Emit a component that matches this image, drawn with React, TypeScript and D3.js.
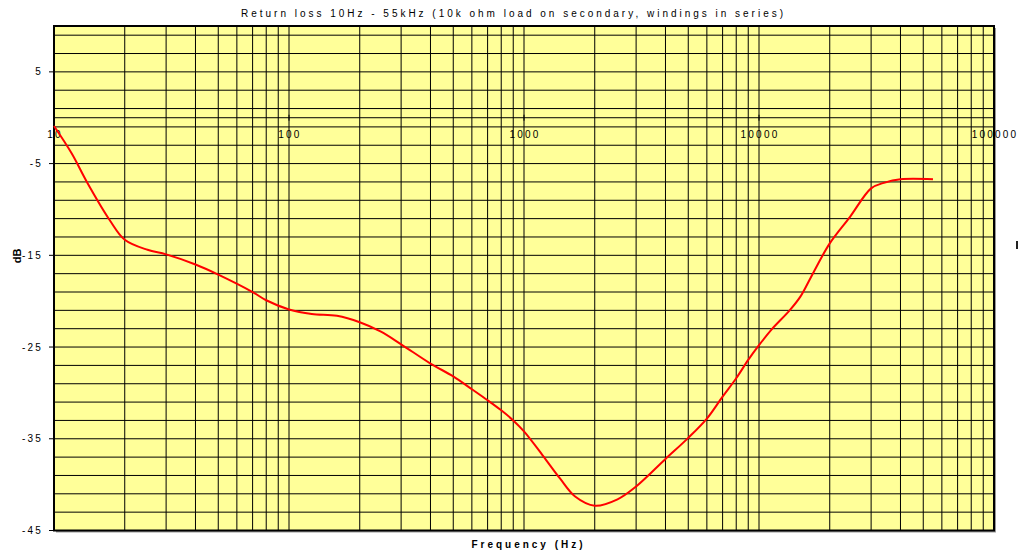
import React from "react";
import * as d3 from "d3";

const freqHz = [10, 11.9, 13.8, 17.3, 20, 25, 30, 40, 50, 70, 80, 100, 125, 160, 200, 245, 300, 400, 500, 600, 700, 800, 900, 1000, 1200, 1420, 1650, 2000, 2500, 3000, 4000, 5000, 6000, 7000, 8000, 9000, 10000, 11300, 13500, 15000, 16700, 20000, 24400, 30000, 34000, 40000, 55000];
const returnLossDb = [-0.9, -3.9, -7.0, -11.2, -13.3, -14.4, -14.9, -16.0, -17.1, -19.0, -19.9, -20.9, -21.4, -21.6, -22.3, -23.3, -24.7, -26.8, -28.2, -29.6, -30.8, -31.9, -33.0, -34.2, -36.8, -39.3, -41.3, -42.3, -41.6, -40.2, -37.2, -34.9, -32.8, -30.4, -28.4, -26.4, -24.8, -23.1, -21.0, -19.5, -17.3, -13.7, -10.8, -7.7, -7.1, -6.7, -6.7];
const yTickLabels = [-45, -35, -25, -15, -5, 5];
const xTickLabels = [10, 100, 1000, 10000, 100000];
const titleText = "Return loss 10Hz - 55kHz (10k ohm load on secondary, windings in series)";
const xAxisTitle = "Frequency (Hz)";
const yAxisTitle = "dB";

const W = 1020, H = 553;
const L = 54, R = 994, T = 26, B = 530.5;

export default function App() {
  const x = d3.scaleLog().domain([10, 100000]).range([L, R]);
  const y = d3.scaleLinear().domain([-45, 10]).range([B, T]);

  const vLines: number[] = [];
  [10, 100, 1000, 10000].forEach((d) => {
    for (let k = 1; k <= 9; k++) vLines.push(d * k);
  });
  const hLines: number[] = [];
  for (let v = -43; v <= 9; v += 2) hLines.push(v);

  const pts: [number, number][] = freqHz.map((f, i) => [x(f), y(returnLossDb[i])]);
  const line = d3.line().curve(d3.curveCatmullRom.alpha(0.5))(pts) || "";

  const font = "'Liberation Sans', Arial, sans-serif";

  return (
    <svg width={W} height={H} style={{ position: "absolute", left: 0, top: 0, background: "#fff" }} fontFamily={font}>
      <rect x={L + 2} y={T + 2} width={R - L} height={B - T} fill="#999" />
      <rect x={L} y={T} width={R - L} height={B - T} fill="#FFFF99" />
      {vLines.map((f, i) => (
        <line key={"v" + i} x1={x(f)} x2={x(f)} y1={T} y2={B} stroke="#000" strokeWidth={1} />
      ))}
      {hLines.map((v, i) => (
        <line key={"h" + i} x1={L} x2={R} y1={y(v)} y2={y(v)} stroke="#000" strokeWidth={1} />
      ))}
      <line x1={L} x2={R} y1={y(0)} y2={y(0)} stroke="#000" strokeWidth={1} />
      {xTickLabels.map((f, i) => (
        <line key={"xt" + i} x1={x(f)} x2={x(f)} y1={y(0) - 3} y2={y(0) + 3} stroke="#000" strokeWidth={1} />
      ))}
      <rect x={L} y={T} width={R - L} height={B - T} fill="none" stroke="#000" strokeWidth={2} />
      {yTickLabels.map((v, i) => (
        <g key={"yt" + i}>
          <line x1={L - 5} x2={L} y1={y(v)} y2={y(v)} stroke="#000" strokeWidth={1} />
          <text x={43} y={y(v) + 3.5} textAnchor="end" fontSize={10} letterSpacing={2.2} fill="#000">
            {v}
          </text>
        </g>
      ))}
      {xTickLabels.map((f, i) => (
        <text key={"xl" + i} x={x(f) + 1} y={y(0) + 20} textAnchor="middle" fontSize={10} letterSpacing={2.2} fill="#000">
          {f}
        </text>
      ))}
      <path d={line} fill="none" stroke="#FF0000" strokeWidth={2} />
      <text x={512} y={16.5} textAnchor="middle" fontSize={10} textLength={542} lengthAdjust="spacing" fill="#000">
        {titleText}
      </text>
      <text x={527} y={548} textAnchor="middle" fontSize={10} fontWeight="bold" textLength={111} lengthAdjust="spacing" fill="#000">
        {xAxisTitle}
      </text>
      <text transform={`translate(21,256) rotate(-90)`} textAnchor="middle" fontSize={11} fontWeight="bold" fill="#000">
        {yAxisTitle}
      </text>
      <rect x={1016} y={241} width={2} height={8} fill="#222" />
    </svg>
  );
}
